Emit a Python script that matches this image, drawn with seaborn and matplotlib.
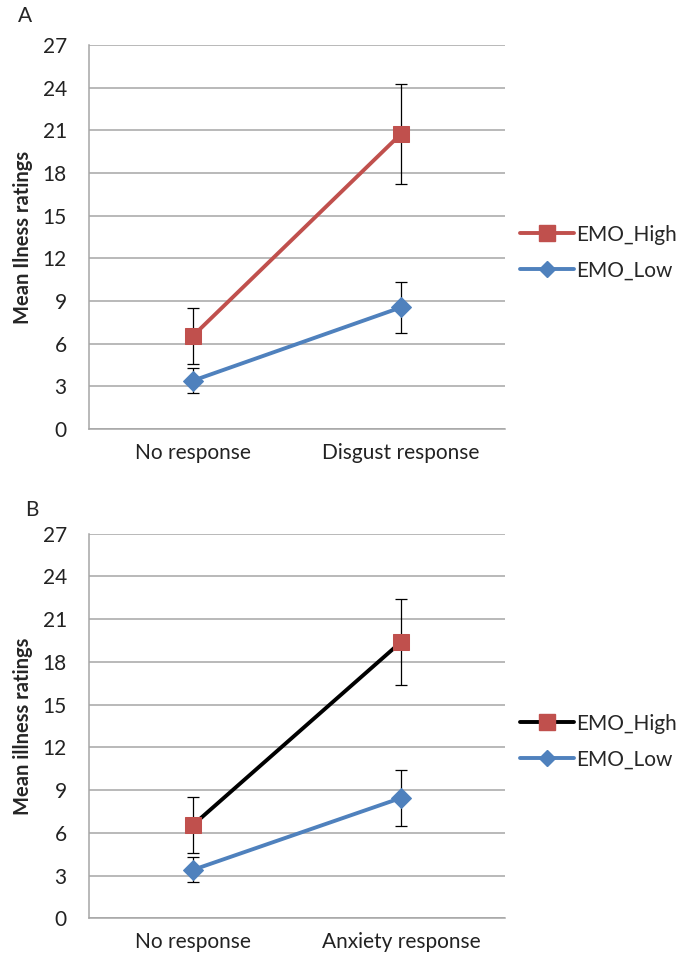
import pandas as pd
import matplotlib
matplotlib.use('Agg')
import matplotlib.pyplot as plt
import seaborn as sns
from matplotlib.lines import Line2D

# --- datos ---
groups = ['EMO_High', 'EMO_Low']
cats_a = ['No response', 'Disgust response']
cats_b = ['No response', 'Anxiety response']

high_a = [6.55, 20.75]
high_a_err = [1.95, 3.5]
low_a = [3.4, 8.55]
low_a_err = [0.88, 1.8]

high_b = [6.55, 19.4]
high_b_err = [1.95, 3.0]
low_b = [3.4, 8.45]
low_b_err = [0.88, 1.98]

y_ticks = [0, 3, 6, 9, 12, 15, 18, 21, 24, 27]

red = '#C0504D'
blue = '#4F81BD'

sns.set_style('white')
plt.rcParams['font.family'] = ['Lato', 'DejaVu Sans']

fig = plt.figure(figsize=(6.82, 9.6), dpi=100)
W, H = 682, 960


def panel(top, bottom, cats, high, high_err, low, low_err, high_line, ylabel, letter, letter_xy):
    ax = fig.add_axes([89 / W, (H - bottom) / H, 416 / W, (bottom - top) / H])
    df = pd.DataFrame({
        'cond': cats * 2,
        'val': high + low,
        'grupo': [groups[0]] * 2 + [groups[1]] * 2,
    })
    d_high = df[df['grupo'] == groups[0]]
    d_low = df[df['grupo'] == groups[1]]

    # barras de error primero (quedan debajo de los marcadores)
    ax.errorbar(cats, low, yerr=low_err, fmt='none', ecolor='black',
                elinewidth=0.9, capsize=4, capthick=0.9, zorder=2)
    ax.errorbar(cats, high, yerr=high_err, fmt='none', ecolor='black',
                elinewidth=0.9, capsize=4, capthick=0.9, zorder=2)

    sns.lineplot(data=d_low, x='cond', y='val', ax=ax, color=blue, lw=2.8,
                 marker='D', markersize=10, markeredgecolor=blue, zorder=3,
                 sort=False)
    sns.lineplot(data=d_high, x='cond', y='val', ax=ax, color=high_line, lw=2.8,
                 marker='s', markersize=11, markerfacecolor=red,
                 markeredgecolor=red, zorder=4, sort=False)

    ax.set_xlim(-0.5, 1.5)
    ax.set_ylim(0, 27)
    ax.set_yticks(y_ticks)
    ax.yaxis.grid(True, color='#A6A6A6', lw=1.1)
    ax.xaxis.grid(False)
    ax.set_axisbelow(True)
    for s in ['top', 'right']:
        ax.spines[s].set_visible(False)
    ax.spines['left'].set_color('#A6A6A6')
    ax.spines['bottom'].set_color('#A6A6A6')
    ax.spines['left'].set_linewidth(1.1)
    ax.spines['bottom'].set_linewidth(1.1)
    ax.tick_params(axis='both', length=0, labelsize=15, colors='#222222')
    ax.tick_params(axis='y', pad=16)
    ax.tick_params(axis='x', pad=10)
    ax.set_xlabel('')
    ax.set_ylabel(ylabel, fontsize=14.5, fontweight='bold')
    ax.yaxis.set_label_coords(-0.135, 0.5)

    handles = [
        Line2D([], [], color=high_line, lw=2.8, marker='s', markersize=11,
               markerfacecolor=red, markeredgecolor=red),
        Line2D([], [], color=blue, lw=2.8, marker='D', markersize=8,
               markeredgecolor=blue),
    ]
    ax.legend(handles, groups, loc='center left', bbox_to_anchor=(1.0, 0.46),
              frameon=False, fontsize=15, handlelength=2.6, handletextpad=0.1,
              labelspacing=0.75, borderaxespad=0.3)
    fig.text(letter_xy[0] / W, 1 - letter_xy[1] / H, letter, fontsize=15,
             ha='left', va='center')
    return ax


panel(45, 429, cats_a, high_a, high_a_err, low_a, low_a_err, red,
      'Mean Ilness ratings', 'A', (18, 16))
panel(533.7, 918.3, cats_b, high_b, high_b_err, low_b, low_b_err, 'black',
      'Mean illness ratings', 'B', (25, 510))

fig.savefig('out.png', dpi=100)
